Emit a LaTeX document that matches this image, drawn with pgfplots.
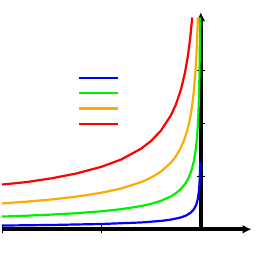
\documentclass[border=0pt]{standalone}
\usepackage{pgfplots}
\pgfplotsset{compat=1.18}
\usetikzlibrary{arrows.meta}
\definecolor{cblue}{RGB}{0,0,255}
\definecolor{cgreen}{RGB}{0,240,0}
\definecolor{corange}{RGB}{255,170,0}
\definecolor{cred}{RGB}{255,0,0}
\begin{document}
\begin{tikzpicture}
\begin{axis}[
  x=99.5pt, y=53pt,
  axis lines=middle,
  xmin=-2, xmax=0.51, ymin=0, ymax=4.1,
  axis line style={black, line width=3.6pt, -{Latex[length=9pt,width=9pt]}},
  xtick={-2,-1,0}, ytick={1,2,3},
  xticklabels={}, yticklabels={},
  tick align=center, major tick length=8pt,
  tick style={black, line width=0.7pt},
  clip=false,
  legend image code/.code={\draw[#1] (0pt,0pt) -- (39pt,0pt);},
  legend style={draw=none, fill=none, inner sep=0pt, outer sep=0pt,
    nodes={inner sep=0pt, outer sep=0pt},
    row sep=13pt,
    at={(axis cs:-1.236,2.876)}, anchor=north west},
]
\addplot[cblue, line width=2.2pt] coordinates {(-2,0.0707) (-1.5,0.0816) (-1,0.1) (-0.6,0.129) (-0.4,0.158) (-0.3,0.183) (-0.2,0.224) (-0.15,0.258) (-0.1,0.316) (-0.07,0.378) (-0.05,0.447) (-0.04,0.5) (-0.03,0.577) (-0.02,0.707) (-0.015,0.816) (-0.01,1.0) (-0.0062,1.27)};
\addlegendentry{}
\addplot[cgreen, line width=2.2pt] coordinates {(-2,0.240) (-1.75,0.257) (-1.5,0.278) (-1.25,0.304) (-1,0.34) (-0.8,0.380) (-0.6,0.439) (-0.5,0.481) (-0.4,0.538) (-0.3,0.621) (-0.25,0.68) (-0.2,0.760) (-0.16,0.85) (-0.13,0.943) (-0.1,1.075) (-0.07,1.285) (-0.05,1.521) (-0.04,1.70) (-0.03,1.963) (-0.025,2.15) (-0.02,2.404) (-0.015,2.776) (-0.012,3.104) (-0.01,3.4) (-0.0072,4.0)};
\addlegendentry{}
\addplot[corange, line width=2.2pt] coordinates {(-2,0.488) (-1.75,0.522) (-1.5,0.563) (-1.25,0.617) (-1,0.69) (-0.8,0.771) (-0.6,0.891) (-0.5,0.976) (-0.4,1.091) (-0.3,1.26) (-0.25,1.38) (-0.2,1.543) (-0.16,1.725) (-0.13,1.914) (-0.11,2.08) (-0.1,2.182) (-0.087,2.339) (-0.07,2.608) (-0.05,3.086) (-0.04,3.45) (-0.035,3.688) (-0.0298,4.0)};
\addlegendentry{}
\addplot[cred, line width=2.2pt] coordinates {(-2,0.845) (-1.75,0.892) (-1.5,0.963) (-1.25,1.055) (-1,1.18) (-0.8,1.319) (-0.6,1.523) (-0.5,1.669) (-0.4,1.866) (-0.3,2.154) (-0.25,2.36) (-0.2,2.639) (-0.16,2.95) (-0.13,3.273) (-0.11,3.558) (-0.1,3.732) (-0.087,4.0)};
\addlegendentry{}
\coordinate (bl) at (axis cs:-2.02,-0.58);
\coordinate (tr) at (axis cs:0.593,4.33);
\end{axis}
\pgfresetboundingbox
\path[use as bounding box] (bl) rectangle (tr);
\end{tikzpicture}
\end{document}
